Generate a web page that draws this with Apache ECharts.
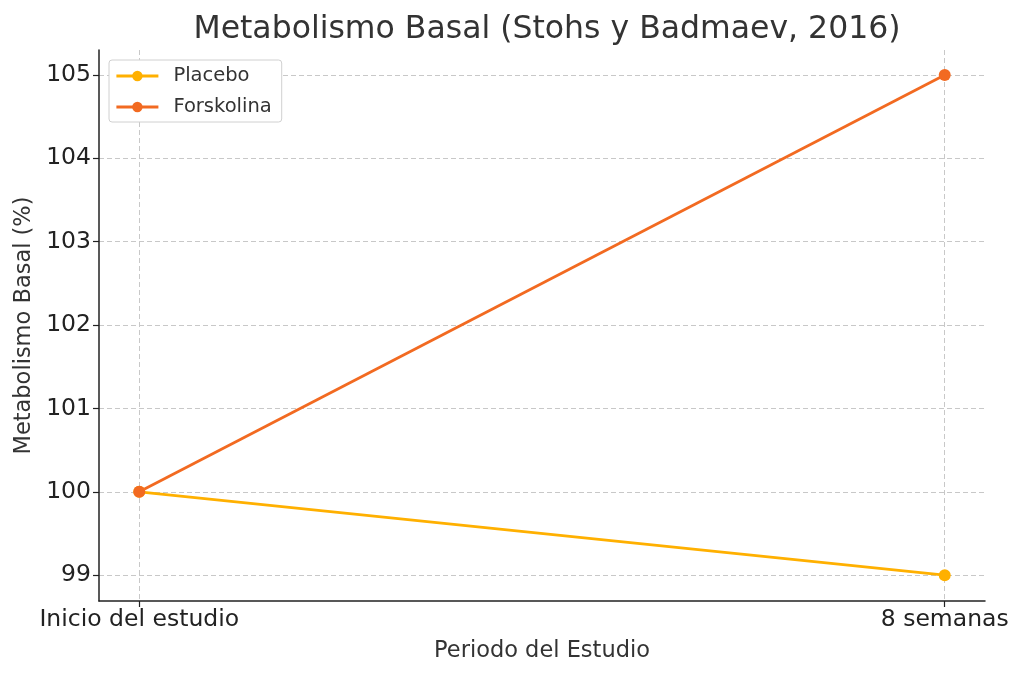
<!DOCTYPE html>
<html>
<head>
<meta charset="utf-8">
<script src="https://cdn.jsdelivr.net/npm/echarts@6/dist/echarts.min.js"></script>
<style>
  html, body { margin: 0; padding: 0; background: #fff; }
  #chart { width: 1024px; height: 677px; }
</style>
</head>
<body>
<div id="chart"></div>
<script>
// datos del grafico
const periodos = ['Inicio del estudio', '8 semanas'];
const placebo = [100, 99];
const forskolina = [100, 105];
const yTicks = [99, 100, 101, 102, 103, 104, 105];

const chart = echarts.init(document.getElementById('chart'));
const font = 'DejaVu Sans';
const gridLine = { show: true, lineStyle: { color: '#c8c8c8', type: [5, 3], width: 1 } };

function toPoints(values) {
    return values.map((v, i) => [i, v]);
}

const option = {
    animation: false,
    textStyle: { fontFamily: font },
    title: {
        text: 'Metabolismo Basal (Stohs y Badmaev, 2016)',
        left: 542, top: 9, textAlign: 'center',
        textStyle: { fontFamily: font, fontSize: 31.5, fontWeight: 'normal', color: '#333333' }
    },
    legend: {
        left: 109, top: 60, orient: 'vertical',
        padding: [6, 10, 5, 6], itemGap: 11,
        itemWidth: 42, itemHeight: 13,
        lineStyle: { width: 2.8 },
        backgroundColor: '#ffffff', borderColor: '#d0d0d0', borderWidth: 1, borderRadius: 3,
        textStyle: { fontFamily: font, fontSize: 19.5, color: '#333333', padding: [0, 0, 0, 10] },
        data: ['Placebo', 'Forskolina']
    },
    grid: { left: 99, right: 39, top: 50, bottom: 76, containLabel: false },
    xAxis: {
        type: 'value', min: -0.05, max: 1.05,
        name: 'Periodo del Estudio', nameLocation: 'middle', nameGap: 39,
        nameTextStyle: { fontFamily: font, fontSize: 22.5, color: '#333333' },
        axisLine: { show: true, onZero: false, lineStyle: { color: '#222222', width: 1.5 } },
        axisTick: { show: true, length: 6, customValues: [0, 1], lineStyle: { color: '#222222', width: 1.2 } },
        axisLabel: {
            customValues: [0, 1], margin: 7,
            fontFamily: font, fontSize: 23.5, color: '#222222',
            formatter: v => periodos[Math.round(v)]
        },
        splitLine: gridLine
    },
    yAxis: {
        type: 'value', min: 98.69, max: 105.3,
        name: 'Metabolismo Basal (%)', nameLocation: 'middle', nameGap: 60,
        nameTextStyle: { fontFamily: font, fontSize: 22.5, color: '#333333' },
        axisLine: { show: true, onZero: false, lineStyle: { color: '#222222', width: 1.5 } },
        axisTick: { show: true, length: 6, customValues: yTicks, lineStyle: { color: '#222222', width: 1.2 } },
        axisLabel: { customValues: yTicks, margin: 8, fontFamily: font, fontSize: 23.5, color: '#222222' },
        splitLine: gridLine
    },
    series: [
        {
            name: 'Placebo', type: 'line', data: toPoints(placebo),
            symbol: 'circle', symbolSize: 12,
            itemStyle: { color: '#FFB000' },
            lineStyle: { color: '#FFB000', width: 2.8 }
        },
        {
            name: 'Forskolina', type: 'line', data: toPoints(forskolina),
            symbol: 'circle', symbolSize: 12,
            itemStyle: { color: '#F26A21' },
            lineStyle: { color: '#F26A21', width: 2.8 }
        }
    ]
};

chart.setOption(option);
</script>
</body>
</html>
